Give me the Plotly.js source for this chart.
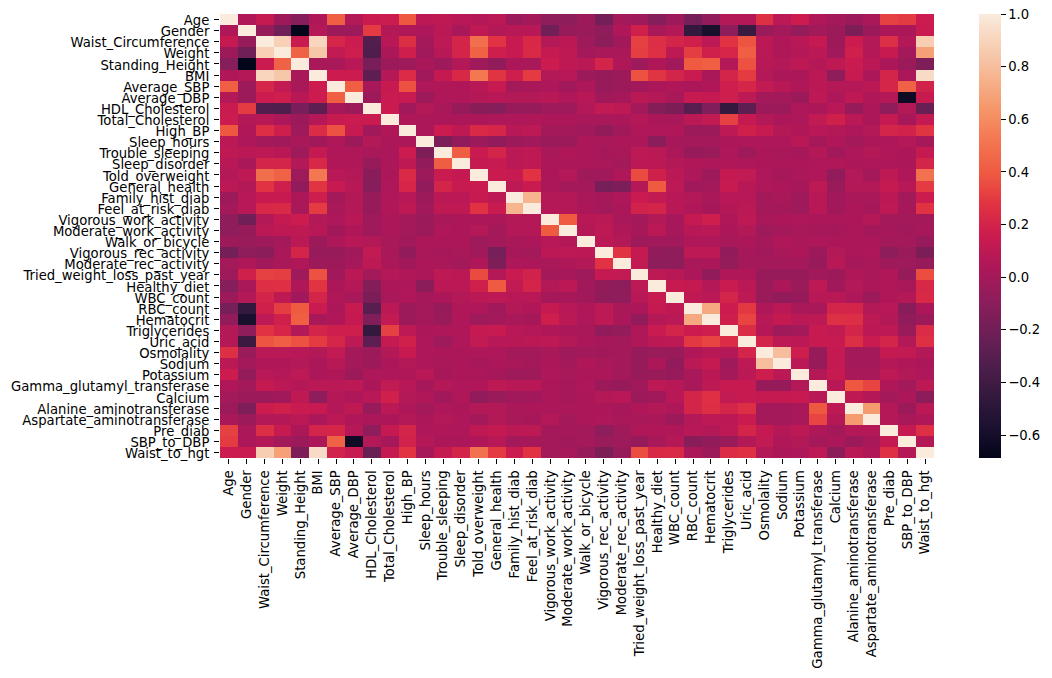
<!DOCTYPE html>
<html><head><meta charset="utf-8">
<script src="https://cdn.plot.ly/plotly-3.0.1.min.js"></script>
<style>html,body{margin:0;padding:0;background:#fff}#chart{width:1052px;height:678px}</style>
</head><body><div id="chart"></div>
<script>
const labels = ["Age","Gender","Waist_Circumference","Weight","Standing_Height","BMI","Average_SBP","Average_DBP","HDL_Cholesterol","Total_Cholesterol","High_BP","Sleep_hours","Trouble_sleeping","Sleep_disorder","Told_overweight","General_health","Family_hist_diab","Feel_at_risk_diab","Vigorous_work_activity","Moderate_work_activity","Walk_or_bicycle","Vigorous_rec_activity","Moderate_rec_activity","Tried_weight_loss_past_year","Healthy_diet","WBC_count","RBC_count","Hematocrit","Triglycerides","Uric_acid","Osmolality","Sodium","Potassium","Gamma_glutamyl_transferase","Calcium","Alanine_aminotransferase","Aspartate_aminotransferase","Pre_diab","SBP_to_DBP","Waist_to_hgt"];
// Upper triangle of the correlation matrix: row i lists columns i+1 .. 39
const upperRows = [
[.05,.13,-.03,-.12,.05,.42,.06,.15,.16,.39,.09,.11,.08,.07,.09,-.03,0,-.08,-.09,-.03,-.19,0,-.02,-.12,-.03,-.18,-.07,.06,.07,.26,.09,.16,.05,0,-.03,.02,.32,.3,.16],
[-.05,-.2,-.68,.07,-.03,-.03,.3,.06,.05,.04,.09,.02,.11,.06,.08,.08,-.2,-.05,-.04,-.08,.05,.18,.02,.06,-.45,-.58,-.08,-.42,-.04,0,-.06,0,-.03,-.15,-.03,.03,.03,.15],
[.88,.15,.9,.21,.16,-.32,.08,.25,0,.1,.2,.49,.27,.14,.22,.06,.09,-.02,-.1,-.01,.32,.25,.2,.18,.1,.27,.38,.09,.05,.08,.13,-.03,.16,.06,.25,.06,.87],
[.43,.84,.12,.17,-.33,.03,.17,-.01,.08,.2,.43,.17,.14,.23,.13,.11,0,.02,.02,.31,.26,.11,.31,.18,.21,.42,.09,.05,.07,.09,-.01,.18,.07,.14,0,.68],
[.02,.02,.08,-.17,-.03,-.02,.02,-.02,.06,-.02,-.07,.03,.02,.16,.11,.09,.2,.05,-.02,.05,-.01,.4,.42,.06,.37,.08,.06,.1,.07,.11,.15,.09,.03,-.03,-.15],
[.16,.16,-.27,.07,.24,-.01,.13,.22,.52,.28,.17,.3,.06,.08,-.03,-.05,-.03,.37,.28,.2,.15,.02,.2,.3,.06,.03,.03,.09,-.08,.14,.03,.2,.03,.93],
[.42,.01,.14,.37,.05,.05,.05,.08,.14,0,.02,.04,-.01,.04,-.05,-.03,-.01,.03,.05,.03,.05,.17,.21,.12,.08,.05,.09,.07,.07,.09,.21,.43,.19],
[-.03,.15,.14,-.03,.05,.05,.07,.08,.06,.06,.08,.05,.08,-.01,.01,.09,.07,.02,.14,.13,.17,.1,0,0,-.03,.1,.04,.11,.05,.07,-.63,.14],
[.15,-.01,.06,.02,-.05,-.11,-.12,-.05,-.05,-.02,-.02,.06,.12,.1,0,-.13,-.16,-.3,-.14,-.45,-.28,-.03,-.03,.04,.03,.08,-.05,.03,-.08,.06,-.24],
[.05,.03,.03,.03,.03,.04,.04,.05,.03,.03,.02,.02,.03,.07,.03,.02,.09,.12,.32,.13,.06,.03,.04,.12,.18,.09,.03,.13,.01,.13],
[.03,.16,.11,.23,.21,.08,.1,0,0,-.01,-.07,-.01,.05,.04,.05,-.03,-.03,.1,.18,.14,.06,.05,.08,.06,.04,.06,.2,.19,.28],
[-.15,-.07,-.03,-.07,-.03,-.01,-.04,-.03,.03,.02,.03,.03,-.1,.01,0,0,.03,.04,.04,.04,.08,.01,.05,0,.03,.04,.07,.01],
[.41,.15,.2,.09,.11,.02,.05,.03,.01,.02,.1,.09,.03,-.05,-.04,.04,-.02,.03,.02,.01,.07,-.01,.04,.06,.05,.03,.13],
[.13,.14,.09,.11,.03,.03,.03,.02,0,.09,.09,.06,.05,.04,.05,.04,.03,.03,.03,.04,.05,.03,.04,.04,.03,.2],
[.15,.14,.27,.03,.07,-.02,-.01,.05,.35,.18,.09,.04,-.02,.13,.12,.04,.01,.03,.05,-.07,.06,0,.11,.05,.5],
[.1,.15,.03,0,0,-.18,-.15,.07,.4,.1,-.01,0,.14,.08,.04,.03,.01,.1,-.04,.06,.06,.13,.08,.3],
[.76,.06,.07,.02,.01,.04,.15,.12,.08,.06,.02,.08,.08,0,.02,-.02,.08,-.01,.02,.02,.09,0,.16],
[.07,.07,.03,0,.03,.19,.2,.08,.05,.01,.07,.09,0,0,-.02,.08,-.01,.03,.01,.1,.01,.27],
[.4,.08,.09,.02,0,.06,.01,.13,.17,.05,.1,.02,.03,.04,.03,.03,.03,.07,0,0,0],
[.07,.1,.05,.01,.09,.01,.08,.09,.03,.06,-.02,0,.02,.01,.01,.03,0,.01,-.01,.01],
[.09,.06,-.02,-.01,-.01,.05,.04,.02,.03,0,.05,.03,.04,.03,.03,.03,0,0,-.05],
[.27,.13,-.07,-.08,.1,.1,-.07,.01,-.01,.02,.03,-.03,.06,.03,.04,-.09,-.04,-.16],
[.12,-.09,-.08,.02,.03,-.06,0,0,0,0,-.05,.08,.01,.02,-.02,-.02,-.05],
[.1,.08,.03,-.07,.05,.05,-.05,-.05,-.05,-.01,-.03,.05,.02,.05,-.05,.36],
[.14,.13,.07,.15,.09,-.04,.03,-.04,.1,-.01,.06,.03,.05,.02,.22],
[.11,.09,.2,.1,-.04,-.07,-.05,.08,.08,.04,-.03,.05,.07,.23],
[.71,.16,.29,.05,.09,.02,.02,.2,.2,.06,.08,-.11,.03],
[.17,.33,.08,.13,.09,.1,.26,.25,.1,.06,-.07,-.03],
[.24,.07,-.02,0,.14,.12,.2,.09,.1,-.04,.24],
[.2,.1,.09,.14,.14,.25,.15,.2,.06,.26],
[.8,.17,-.05,.13,0,0,.13,.12,.06],
[.09,-.05,.13,0,0,.07,.05,.03],
[.06,.14,.02,.02,.1,.06,.04],
[.08,.39,.33,.05,0,.1],
[.11,.07,0,.03,-.1],
[.66,.07,-.03,.09],
[.07,.02,.05],
[.13,.26],
[.07]
];
const zMin = -0.687, zMax = 1;
const rocketStops = [[0,"#03051a"],[0.0714,"#1c1130"],[0.1429,"#35193e"],[0.2143,"#511e4d"],[0.2857,"#701f57"],[0.3571,"#8e1d5b"],[0.4286,"#ad1759"],[0.5,"#cb1b4f"],[0.5714,"#e13342"],[0.6429,"#ef5a41"],[0.7143,"#f37651"],[0.7857,"#f59669"],[0.8571,"#f6b48f"],[0.9286,"#f7d0b5"],[1,"#faebdd"]];

const z = labels.map(() => labels.map(() => 1));
upperRows.forEach((row, i) => row.forEach((v, k) => { z[i][i+1+k] = v; z[i+1+k][i] = v; }));

const font = {family: '"DejaVu Sans", sans-serif', size: 13.2, color: "#000"};
Plotly.newPlot("chart", [{
  type: "heatmap", x: labels, y: labels, z, zmin: zMin, zmax: zMax,
  colorscale: rocketStops, hoverongaps: false,
  colorbar: {
    thickness: 22, thicknessmode: "pixels", len: 444, lenmode: "pixels",
    x: 1.063, xanchor: "left", xpad: 0, y: 0.5, yanchor: "middle", ypad: 0,
    outlinewidth: 0, tickmode: "array",
    tickvals: [-0.6,-0.4,-0.2,0,0.2,0.4,0.6,0.8,1],
    ticktext: ["−0.6","−0.4","−0.2","0.0","0.2","0.4","0.6","0.8","1.0"],
    ticks: "outside", ticklen: 5, tickwidth: 1, tickcolor: "#000", tickfont: font
  }
}], {
  width: 1052, height: 678,
  margin: {l: 220, r: 118, t: 14, b: 220, autoexpand: false},
  paper_bgcolor: "#fff", plot_bgcolor: "#fff", font,
  xaxis: {type: "category", tickangle: -90, dtick: 1, ticks: "outside", ticklen: 5, tickcolor: "#000", tickwidth: 1, showgrid: false, zeroline: false, showline: false, tickfont: font, ticklabelstandoff: 1, range: [-0.5, 39.5], automargin: false},
  yaxis: {type: "category", dtick: 1, ticks: "outside", ticklen: 5, tickcolor: "#000", tickwidth: 1, showgrid: false, zeroline: false, showline: false, tickfont: font, ticklabelstandoff: 2, ticklabelshift: -1, range: [39.5, -0.5], automargin: false}
}, {displayModeBar: false});
</script></body></html>
